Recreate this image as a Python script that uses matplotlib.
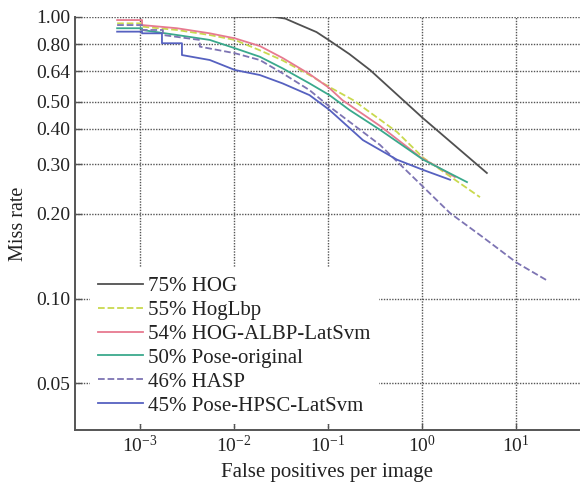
import matplotlib
matplotlib.use("Agg")
import matplotlib.pyplot as plt

plt.rcParams["font.family"] = ["Liberation Serif", "DejaVu Serif"]
plt.rcParams["mathtext.fontset"] = "custom"
plt.rcParams["mathtext.rm"] = "Liberation Serif"
plt.rcParams["mathtext.it"] = "Liberation Serif:italic"
plt.rcParams["mathtext.bf"] = "Liberation Serif:bold"

# miss rate vs. false positives per image
hog_fppi = [0.0098, 0.0257, 0.035, 0.0462, 0.0754, 0.1035, 0.1687, 0.28, 1.02, 4.9]
hog_miss = [1.0, 1.0, 0.985, 0.946, 0.882, 0.823, 0.737, 0.647, 0.437, 0.279]

hoglbp_fppi = [5.7e-4, 1.05e-3, 1.05e-3, 2.47e-3, 5.52e-3, 0.0102, 0.0188, 0.0328, 0.0635,
               0.1035, 0.185, 0.542, 1.03, 4.14]
hoglbp_miss = [0.947, 0.947, 0.922, 0.897, 0.861, 0.827, 0.760, 0.700, 0.621,
               0.563, 0.506, 0.390, 0.316, 0.229]

albp_fppi = [5.7e-4, 1.05e-3, 1.05e-3, 2.47e-3, 5.52e-3, 0.0102, 0.0188, 0.0328, 0.0635,
             0.1035, 0.142, 0.357, 0.953, 2.24]
albp_miss = [0.973, 0.973, 0.934, 0.910, 0.873, 0.838, 0.787, 0.714, 0.626,
             0.558, 0.506, 0.410, 0.318, 0.270]

pose_fppi = [5.7e-4, 1.05e-3, 1.05e-3, 2.47e-3, 5.52e-3, 0.0102, 0.0188, 0.0328, 0.0635,
             0.1035, 0.1687, 0.357, 1.03, 3.01]
pose_miss = [0.910, 0.910, 0.897, 0.861, 0.827, 0.773, 0.721, 0.656, 0.580,
             0.527, 0.467, 0.397, 0.311, 0.259]

hasp_fppi = [5.7e-4, 1.05e-3, 1.05e-3, 1.75e-3, 1.75e-3, 4.32e-3, 4.32e-3, 0.0102, 0.0188,
             0.0328, 0.0635, 0.1035, 0.357, 1.03, 1.99, 4.46, 10.2, 21.4]
hasp_miss = [0.934, 0.934, 0.897, 0.897, 0.861, 0.827, 0.783, 0.742, 0.702,
             0.630, 0.549, 0.480, 0.351, 0.249, 0.201, 0.165, 0.134, 0.116]

hpsc_fppi = [5.7e-4, 1.05e-3, 1.05e-3, 1.71e-3, 1.71e-3, 2.79e-3, 2.79e-3, 5.52e-3, 0.0102,
             0.0188, 0.0328, 0.0635, 0.1035, 0.235, 0.542, 1.03, 1.99]
hpsc_miss = [0.885, 0.885, 0.873, 0.873, 0.805, 0.805, 0.731, 0.702, 0.647,
             0.621, 0.580, 0.527, 0.467, 0.365, 0.311, 0.286, 0.264]

labels = ["75% HOG", "55% HogLbp", "54% HOG-ALBP-LatSvm",
          "50% Pose-original", "46% HASP", "45% Pose-HPSC-LatSvm"]
y_ticks = [0.05, 0.10, 0.20, 0.30, 0.40, 0.50, 0.64, 0.80, 1.00]
x_ticks = [1e-3, 1e-2, 1e-1, 1e0, 1e1]
x_tick_labels = ["10$^{-3}$", "10$^{-2}$", "10$^{-1}$", "10$^{0}$", "10$^{1}$"]

series = [
    (hog_fppi, hog_miss, "#505050", "-"),
    (hoglbp_fppi, hoglbp_miss, "#c9d94e", "--"),
    (albp_fppi, albp_miss, "#e77a90", "-"),
    (pose_fppi, pose_miss, "#3aa98c", "-"),
    (hasp_fppi, hasp_miss, "#7d74b3", "--"),
    (hpsc_fppi, hpsc_miss, "#5661c0", "-"),
]

fig = plt.figure(figsize=(5.8, 4.88), dpi=100)
ax = fig.add_axes([0.1293, 0.1189, 0.8707, 0.8469])

for (x, y, color, ls), label in zip(series, labels):
    ax.plot(x, y, color=color, ls=ls, lw=1.3, label=label, zorder=3)

ax.set_xscale("log")
ax.set_yscale("log")
ax.set_xlim(2.03e-4, 48)
ax.set_ylim(0.0342, 1.0)
ax.minorticks_off()
ax.set_yticks(y_ticks)
ax.set_yticklabels([f"{v:.2f}" for v in y_ticks])
ax.set_xticks(x_ticks)
ax.set_xticklabels(x_tick_labels)
ax.tick_params(direction="in", length=5, width=1, color="#555555",
               labelsize=14, labelcolor="#222222")
ax.grid(True, which="major", color="#555555", ls=(0, (1, 1)), lw=1, zorder=1)

for side in ("top", "right"):
    ax.spines[side].set_visible(False)
for side in ("left", "bottom"):
    ax.spines[side].set_color("#555555")
    ax.spines[side].set_linewidth(1.4)

ax.set_xlabel("False positives per image", fontsize=15, color="#222222", labelpad=5)
ax.set_ylabel("Miss rate", fontsize=14.5, color="#222222", labelpad=6)

leg = ax.legend(loc="upper left", bbox_to_anchor=(0.03, 0.392), borderaxespad=0,
                fontsize=15, frameon=True, fancybox=False, edgecolor="none",
                facecolor="white", framealpha=1, handlelength=2.15,
                handletextpad=0.22, labelspacing=0.21, borderpad=0.4)
leg.set_zorder(5)
for t in leg.get_texts():
    t.set_color("#222222")

fig.savefig("out.png", dpi=100)
